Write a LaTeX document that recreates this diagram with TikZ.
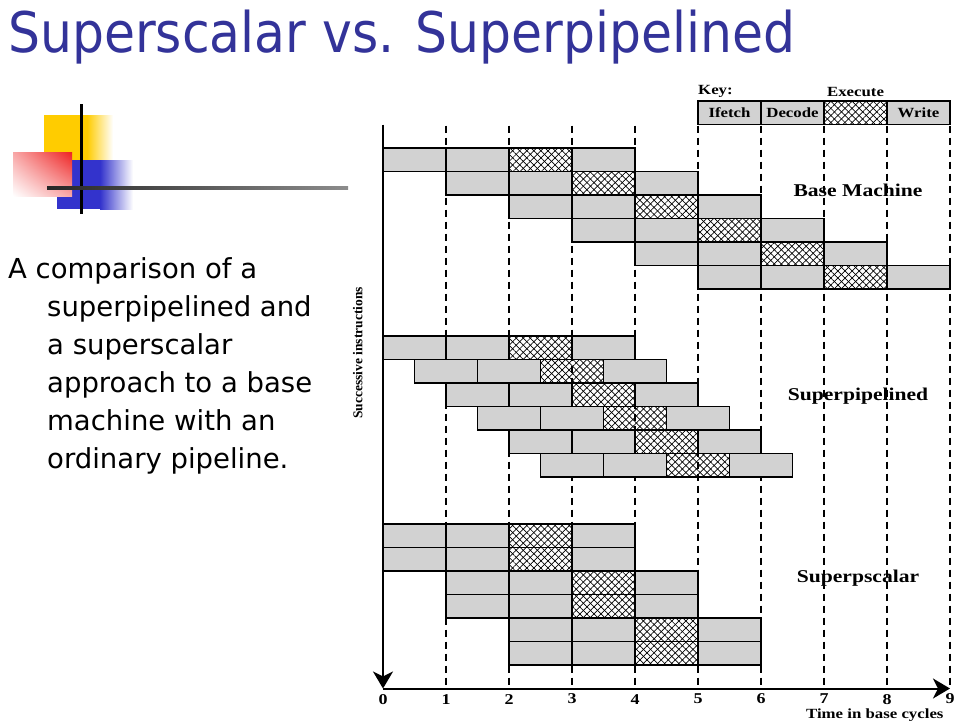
\documentclass[tikz,border=0pt]{standalone}
\usepackage{fontspec}
\usetikzlibrary{arrows.meta,patterns.meta,shadings}
\newfontfamily\slidefont{DejaVu Sans}
\newfontfamily\titlefont[FakeStretch=0.9]{DejaVu Sans}
\newfontfamily\chartfont[FakeStretch=1.2]{Liberation Serif}
\newfontfamily\sidefont{Liberation Serif}
\definecolor{titleblue}{RGB}{51,51,153}
\definecolor{cellgray}{RGB}{210,210,210}
\definecolor{decoyellow}{RGB}{255,204,0}
\definecolor{decored}{RGB}{238,34,34}
\definecolor{decoblue}{RGB}{51,51,204}
\tikzset{
  cell/.style={draw, line width=1.8pt, fill=cellgray},
  execcell/.style={draw, line width=1.8pt,
    preaction={pattern={Lines[angle=45,distance=5pt,line width=0.7pt]}},
    pattern={Lines[angle=-45,distance=5pt,line width=0.7pt]}},
  cycleline/.style={line width=2.4pt, dash pattern=on 7pt off 5pt},
  axisline/.style={line width=2pt, -{Stealth[length=17pt,width=20pt,inset=5pt]}},
  charttext/.style={font=\chartfont\bfseries\fontsize{14}{16}\selectfont, inner sep=0pt},
  ticktext/.style={font=\chartfont\bfseries\fontsize{15}{17}\selectfont, inner sep=0pt},
  grouptext/.style={font=\chartfont\bfseries\fontsize{18}{20}\selectfont, inner sep=0pt},
  sidetext/.style={font=\sidefont\bfseries\fontsize{13.5}{15}\selectfont, inner sep=0pt},
}
\newcommand{\hang}{\hspace*{39pt}}
% one instruction: Ifetch, Decode, Execute, Write
\newcommand{\pipeinstr}[2]{%
  \foreach \s in {0,1,3} \draw[cell] (#1+\s,#2) rectangle ++(1,1);
  \draw[execcell] (#1+2,#2) rectangle ++(1,1);
}
\begin{document}
\begin{tikzpicture}[x=1pt,y=-1pt]
\useasboundingbox (0,0) rectangle (960,720);
\node[anchor=base west, inner sep=0pt, text=titleblue, font=\titlefont\fontsize{56}{60}\selectfont] (title) at (8,52) {Superscalar vs. Superpipelined};
% corner ornament
\fill[decoyellow] (44,115) rectangle (87,175);
\shade[left color=decoyellow, right color=white] (87,115) rectangle (113,175);
\fill[decoblue] (57,160) rectangle (100,209);
\shade[left color=decoblue, right color=white] (100,160) rectangle (133,209);
\shade[upper left=decored!40, upper right=decored, lower left=white, lower right=decored!40] (13,152) rectangle (72,196);
\draw[line width=3pt] (81,104) -- (81,214);
\shade[left color=black!85, right color=black!45] (47,186.5) rectangle (348,189.5);
\node[anchor=north west, inner sep=0pt, align=left, font=\slidefont\fontsize{27.5}{38}\selectfont] (summary) at (8,257)
  {A comparison of a\\ \hang superpipelined and\\ \hang a superscalar\\ \hang approach to a base\\ \hang machine with an\\ \hang ordinary pipeline.};
\begin{scope}[shift={(383,148)}, x=63pt, y=-23.5pt]
\foreach \t in {1,...,9} \draw[cycleline] (\t,-0.95) -- (\t,23);
% key
\node[charttext, anchor=west] (keylabel) at (5.0,-2.4) {Key:};
\node[charttext] (execlabel) at (7.5,-2.4) {Execute};
\draw[cell] (5,-2) rectangle ++(1,1);
\draw[cell] (6,-2) rectangle ++(1,1);
\draw[execcell] (7,-2) rectangle ++(1,1);
\draw[cell] (8,-2) rectangle ++(1,1);
\node[charttext] (keyifetch) at (5.5,-1.5) {Ifetch};
\node[charttext] (keydecode) at (6.5,-1.5) {Decode};
\node[charttext] (keywrite) at (8.5,-1.5) {Write};
% base machine
\foreach \i in {0,...,5} \pipeinstr{\i}{\i};
% superpipelined
\foreach \i [evaluate=\i as \st using \i/2] in {0,...,5} \pipeinstr{\st}{8+\i};
% superscalar
\foreach \i [evaluate=\i as \st using int(\i/2)] in {0,...,5} \pipeinstr{\st}{16+\i};
\node[grouptext] (basename) at (7.54,1.79) {Base Machine};
\node[grouptext] (pipename) at (7.54,10.55) {Superpipelined};
\node[grouptext] (scalarname) at (7.54,18.3) {Superpscalar};
% axes
\coordinate (top) at (0,-1);
\coordinate (origin) at (0,23);
\coordinate (tend) at (9,23);
\draw[axisline] (top) -- (origin);
\draw[axisline] (origin) -- (tend);
\foreach \t in {0,...,9} \node[ticktext] (tick\t) at (\t,23.45) {\t};
\node[charttext, anchor=east] (timelabel) at (8.9,24.15) {Time in base cycles};
\node[sidetext, rotate=90] (instrlabel) at (-0.4,8.72) {Successive instructions};
\end{scope}
\end{tikzpicture}
\end{document}
